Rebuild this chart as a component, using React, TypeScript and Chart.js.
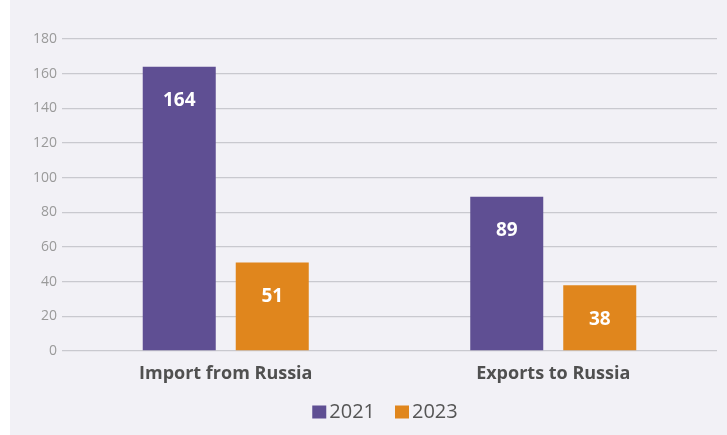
import React, { useEffect, useRef } from "react";
import { Chart, registerables } from "chart.js";

Chart.register(...registerables);

const categories = ["Import from Russia", "Exports to Russia"];
const seriesLabels = ["2021", "2023"];
const values2021 = [164, 89];
const values2023 = [51, 38];
const yTicks = [0, 20, 40, 60, 80, 100, 120, 140, 160, 180];

const PURPLE = "#5f4f93";
const ORANGE = "#e0861d";
const FONT = "'Open Sans', 'DejaVu Sans', sans-serif";

const valueLabels = {
  id: "valueLabels",
  afterDatasetsDraw(chart: any) {
    const ctx = chart.ctx;
    ctx.save();
    ctx.fillStyle = "#ffffff";
    ctx.font = `bold 19px ${FONT}`;
    ctx.textAlign = "center";
    ctx.textBaseline = "middle";
    chart.data.datasets.forEach((ds: any, i: number) => {
      const meta = chart.getDatasetMeta(i);
      meta.data.forEach((bar: any, j: number) => {
        ctx.fillText(String(ds.data[j]), bar.x, bar.y + 34);
      });
    });
    ctx.restore();
  },
};

const customLegend = {
  id: "customLegend",
  afterDraw(chart: any) {
    const ctx = chart.ctx;
    ctx.save();
    ctx.font = `20px ${FONT}`;
    ctx.textBaseline = "middle";
    ctx.textAlign = "left";
    const box = 14;
    const gap = 3;
    const itemGap = 20;
    const items = chart.data.datasets.map((ds: any) => ({
      label: ds.label,
      color: ds.backgroundColor,
      w: box + gap + ctx.measureText(ds.label).width,
    }));
    const total = items.reduce((s: number, it: any) => s + it.w, 0) + itemGap * (items.length - 1);
    let x = 385 - 10 - total / 2;
    const y = 412;
    items.forEach((it: any) => {
      ctx.fillStyle = it.color;
      ctx.fillRect(x, y - 6.5, box, 13);
      ctx.fillStyle = "#555555";
      ctx.fillText(it.label, x + box + gap, y);
      x += it.w + itemGap;
    });
    ctx.restore();
  },
};

export default function App() {
  const ref = useRef<HTMLCanvasElement>(null);
  useEffect(() => {
    if (!ref.current) return;
    const chart = new Chart(ref.current, {
      type: "bar",
      data: {
        labels: categories,
        datasets: [
          { label: seriesLabels[0], data: values2021, backgroundColor: PURPLE, categoryPercentage: 0.568, barPercentage: 0.785 },
          { label: seriesLabels[1], data: values2023, backgroundColor: ORANGE, categoryPercentage: 0.568, barPercentage: 0.785 },
        ],
      },
      options: {
        responsive: false,
        animation: false,
        layout: { padding: { top: 39, right: 10, left: 0, bottom: 0 } },
        plugins: { legend: { display: false }, tooltip: { enabled: false } },
        scales: {
          x: {
            grid: { display: false },
            border: { display: false },
            ticks: { color: "#505050", font: { family: FONT, size: 18, weight: "bold" }, padding: 4 },
            afterFit: (s: any) => { s.height = 84; },
          },
          y: {
            min: 0,
            max: 180,
            afterBuildTicks: (s: any) => { s.ticks = yTicks.map((v) => ({ value: v })); },
            grid: { color: "#c9c9cf", lineWidth: 1.3, drawTicks: false },
            border: { display: false },
            ticks: { color: "#9a9a9a", font: { family: FONT, size: 14 }, padding: 5 },
            afterFit: (s: any) => { s.width = 52; },
          },
        },
      },
      plugins: [valueLabels, customLegend],
    });
    return () => chart.destroy();
  }, []);
  return (
    <div style={{ position: "fixed", left: 0, top: 0, width: 727, height: 435, background: "#ffffff" }}>
      <div style={{ position: "absolute", left: 10, top: 0, width: 717, height: 435, background: "#f2f1f6" }}>
        <canvas ref={ref} width={717} height={435} style={{ display: "block" }} />
      </div>
    </div>
  );
}
